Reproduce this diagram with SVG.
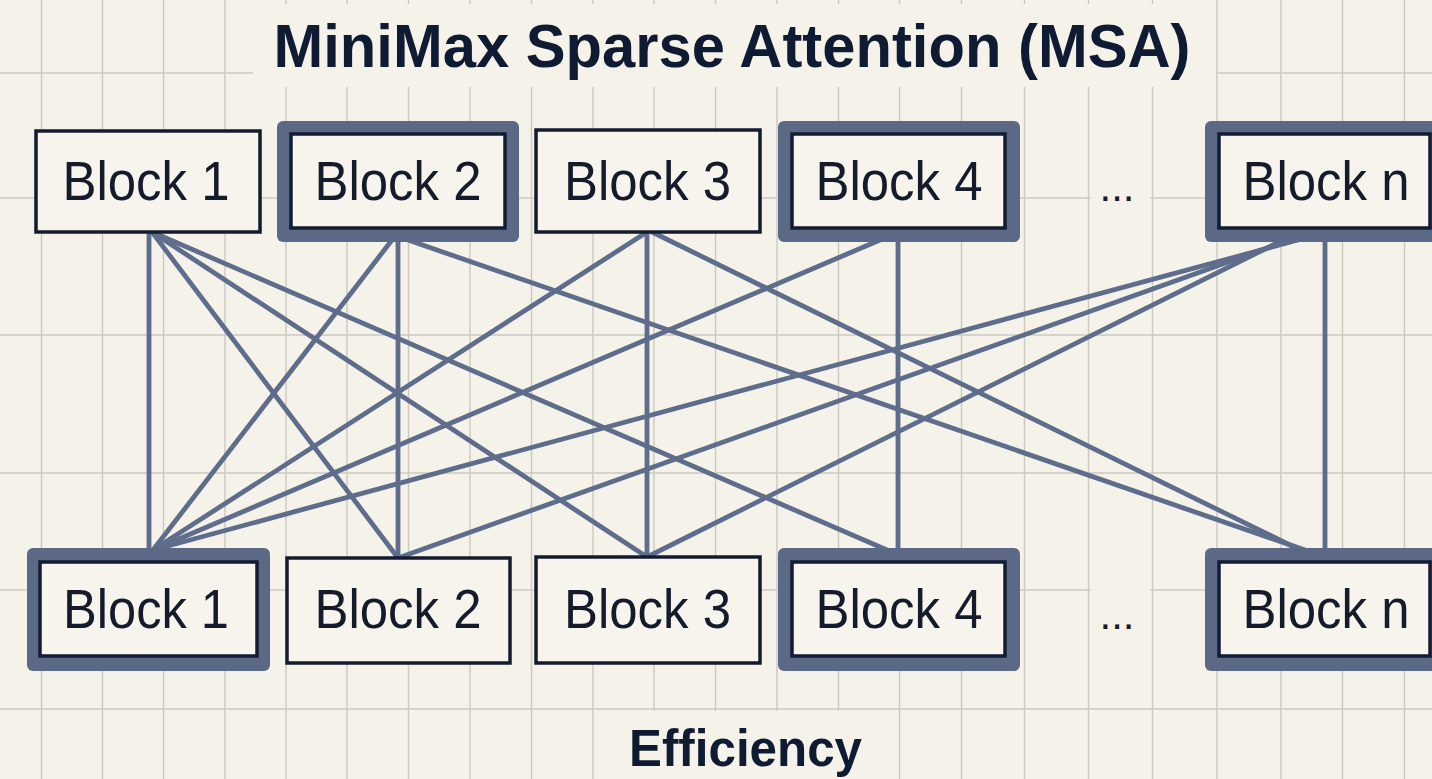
<svg xmlns="http://www.w3.org/2000/svg" width="1432" height="779" viewBox="0 0 1432 779">
  <style>
    .grid line { stroke: #cbc9c0; stroke-width: 1.4; }
    .bg { fill: #f4f2e9; }
    .plain { fill: #f6f4ec; stroke: #141b2e; stroke-width: 3.5; }
    .hl-outer { fill: #5b6987; }
    .hl-inner { fill: #f6f4ec; stroke: #131c34; stroke-width: 3.5; }
    .lbl { font-family: "Liberation Sans", Arial, sans-serif; font-size: 55px; fill: #151b2b; text-anchor: middle; }
    .title { font-family: "Liberation Sans", Arial, sans-serif; font-weight: bold; fill: #0f1a33; text-anchor: middle; }
    .dots { font-family: "Liberation Sans", Arial, sans-serif; font-size: 42px; fill: #151b2b; text-anchor: middle; }
    .conn line { stroke: #5e6d8b; stroke-width: 4.8; stroke-linecap: round; }
  </style>

  <rect class="bg" x="0" y="0" width="1432" height="779"/>

  <g id="grid" class="grid">
    <line x1="41.5" y1="0" x2="41.5" y2="779"/>
    <line x1="102.5" y1="0" x2="102.5" y2="779"/>
    <line x1="163.5" y1="0" x2="163.5" y2="779"/>
    <line x1="225" y1="0" x2="225" y2="779"/>
    <line x1="286" y1="0" x2="286" y2="779"/>
    <line x1="347" y1="0" x2="347" y2="779"/>
    <line x1="408.5" y1="0" x2="408.5" y2="779"/>
    <line x1="470" y1="0" x2="470" y2="779"/>
    <line x1="531.5" y1="0" x2="531.5" y2="779"/>
    <line x1="593" y1="0" x2="593" y2="779"/>
    <line x1="654" y1="0" x2="654" y2="779"/>
    <line x1="715.5" y1="0" x2="715.5" y2="779"/>
    <line x1="777" y1="0" x2="777" y2="779"/>
    <line x1="838.5" y1="0" x2="838.5" y2="779"/>
    <line x1="899.5" y1="0" x2="899.5" y2="779"/>
    <line x1="961.5" y1="0" x2="961.5" y2="779"/>
    <line x1="1024.5" y1="0" x2="1024.5" y2="779"/>
    <line x1="1088.5" y1="0" x2="1088.5" y2="779"/>
    <line x1="1152.5" y1="0" x2="1152.5" y2="779"/>
    <line x1="1217" y1="0" x2="1217" y2="779"/>
    <line x1="1281" y1="0" x2="1281" y2="779"/>
    <line x1="1342.5" y1="0" x2="1342.5" y2="779"/>
    <line x1="1404.5" y1="0" x2="1404.5" y2="779"/>
    <line x1="0" y1="73" x2="1432" y2="73"/>
    <line x1="0" y1="198" x2="1432" y2="198"/>
    <line x1="0" y1="335" x2="1432" y2="335"/>
    <line x1="0" y1="473" x2="1432" y2="473"/>
    <line x1="0" y1="590" x2="1432" y2="590"/>
    <line x1="0" y1="709" x2="1432" y2="709"/>
  </g>

  <!-- background bands behind texts -->
  <rect class="bg" x="253" y="4" width="963" height="83"/>
  <rect class="bg" x="596" y="711" width="302" height="68"/>
  <rect class="bg" x="1090.5" y="185" width="60" height="26"/>
  <rect class="bg" x="1090.5" y="577" width="60" height="26"/>

  <g id="title">
    <text class="title" x="732" y="67" font-size="62" textLength="917" lengthAdjust="spacingAndGlyphs">MiniMax Sparse Attention (MSA)</text>
  </g>

  <g id="connectors" class="conn">
    <line x1="149" y1="232" x2="149" y2="550"/>
    <line x1="152" y1="232" x2="398" y2="558"/>
    <line x1="152" y1="232" x2="647" y2="557"/>
    <line x1="152" y1="232" x2="887" y2="550"/>
    <line x1="392" y1="240" x2="153" y2="550"/>
    <line x1="398" y1="240" x2="398" y2="558"/>
    <line x1="408" y1="240" x2="1305" y2="550"/>
    <line x1="647" y1="232" x2="153" y2="550"/>
    <line x1="647" y1="232" x2="647" y2="557"/>
    <line x1="652" y1="232" x2="1300" y2="550"/>
    <line x1="880" y1="240" x2="153" y2="550"/>
    <line x1="898" y1="240" x2="898" y2="550"/>
    <line x1="1298" y1="240" x2="153" y2="550"/>
    <line x1="1290" y1="240" x2="398" y2="558"/>
    <line x1="1283" y1="240" x2="647" y2="557"/>
    <line x1="1325" y1="240" x2="1325" y2="550"/>
  </g>

  <!-- top row -->
  <g id="top-block-1">
    <rect class="plain" x="36" y="131" width="224" height="101"/>
    <text class="lbl" x="146" y="200" textLength="167" lengthAdjust="spacingAndGlyphs">Block 1</text>
  </g>
  <g id="top-block-2">
    <rect class="hl-outer" x="277" y="121" width="242" height="121" rx="6"/>
    <rect class="hl-inner" x="291" y="134" width="214" height="94"/>
    <text class="lbl" x="398" y="200" textLength="167" lengthAdjust="spacingAndGlyphs">Block 2</text>
  </g>
  <g id="top-block-3">
    <rect class="plain" x="536" y="130" width="224" height="102"/>
    <text class="lbl" x="647.5" y="200" textLength="167" lengthAdjust="spacingAndGlyphs">Block 3</text>
  </g>
  <g id="top-block-4">
    <rect class="hl-outer" x="778" y="121" width="242" height="121" rx="6"/>
    <rect class="hl-inner" x="792" y="134" width="213" height="94"/>
    <text class="lbl" x="899" y="200" textLength="167" lengthAdjust="spacingAndGlyphs">Block 4</text>
  </g>
  <g id="top-dots">
    <text class="dots" x="1117" y="201">...</text>
  </g>
  <g id="top-block-n">
    <rect class="hl-outer" x="1205" y="121" width="250" height="121" rx="6"/>
    <rect class="hl-inner" x="1219" y="134" width="211" height="94"/>
    <text class="lbl" x="1326" y="200" textLength="167" lengthAdjust="spacingAndGlyphs">Block n</text>
  </g>

  <!-- bottom row -->
  <g id="bottom-block-1">
    <rect class="hl-outer" x="27" y="548" width="243" height="123" rx="6"/>
    <rect class="hl-inner" x="40" y="562" width="217" height="94"/>
    <text class="lbl" x="146" y="628" textLength="166" lengthAdjust="spacingAndGlyphs">Block 1</text>
  </g>
  <g id="bottom-block-2">
    <rect class="plain" x="287" y="558" width="223" height="105"/>
    <text class="lbl" x="398" y="628" textLength="167" lengthAdjust="spacingAndGlyphs">Block 2</text>
  </g>
  <g id="bottom-block-3">
    <rect class="plain" x="536" y="557" width="224" height="106"/>
    <text class="lbl" x="647.5" y="628" textLength="167" lengthAdjust="spacingAndGlyphs">Block 3</text>
  </g>
  <g id="bottom-block-4">
    <rect class="hl-outer" x="778" y="548" width="242" height="123" rx="6"/>
    <rect class="hl-inner" x="792" y="562" width="213" height="94"/>
    <text class="lbl" x="899" y="628" textLength="167" lengthAdjust="spacingAndGlyphs">Block 4</text>
  </g>
  <g id="bottom-dots">
    <text class="dots" x="1117" y="629">...</text>
  </g>
  <g id="bottom-block-n">
    <rect class="hl-outer" x="1205" y="548" width="250" height="123" rx="6"/>
    <rect class="hl-inner" x="1219" y="562" width="211" height="94"/>
    <text class="lbl" x="1326" y="628" textLength="167" lengthAdjust="spacingAndGlyphs">Block n</text>
  </g>

  <g id="footer">
    <text class="title" x="745.5" y="766" font-size="52" textLength="233" lengthAdjust="spacingAndGlyphs">Efficiency</text>
  </g>
</svg>
